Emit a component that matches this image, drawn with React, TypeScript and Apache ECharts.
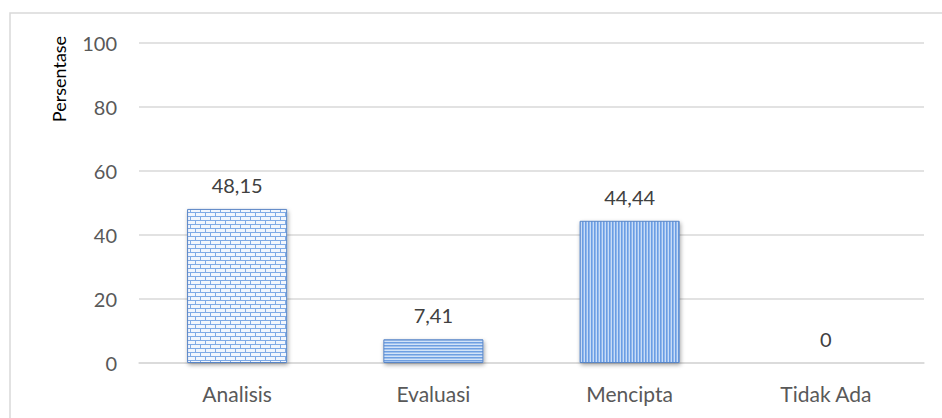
import React, { useEffect, useRef } from "react";
import * as echarts from "echarts";

const categories = ["Analisis", "Evaluasi", "Mencipta", "Tidak Ada"];
const values = [48.15, 7.41, 44.44, 0];
const yTicks = { min: 0, max: 100, interval: 20 };
const yTitle = "Persentase";

const FONT = "Lato, 'Noto Sans', sans-serif";
const TEXT = "#595959";

function makeCanvas(w: number, h: number, draw: (c: CanvasRenderingContext2D) => void) {
  const cv = document.createElement("canvas");
  cv.width = w;
  cv.height = h;
  const ctx = cv.getContext("2d")!;
  draw(ctx);
  return cv;
}

// brick texture
function brickPattern() {
  const w = 10, h = 8;
  const cv = makeCanvas(w, h, (c) => {
    c.fillStyle = "#f1f6fd";
    c.fillRect(0, 0, w, h);
    c.fillStyle = "#7eaae6";
    c.fillRect(0, 0, w, 1);
    c.fillRect(0, 4, w, 1);
    c.fillRect(0, 0, 1, 4);
    c.fillRect(5, 4, 1, 4);
  });
  return { image: cv, repeat: "repeat", imageWidth: w, imageHeight: h };
}

// horizontal stripes
function hStripes() {
  const w = 4, h = 3;
  const cv = makeCanvas(w, h, (c) => {
    c.fillStyle = "#d2e3f8";
    c.fillRect(0, 0, w, h);
    c.fillStyle = "#6e9fe2";
    c.fillRect(0, 0, w, 1.5);
  });
  return { image: cv, repeat: "repeat", imageWidth: w, imageHeight: h };
}

// vertical stripes
function vStripes() {
  const w = 3, h = 4;
  const cv = makeCanvas(w, h, (c) => {
    c.fillStyle = "#c8dcf6";
    c.fillRect(0, 0, w, h);
    c.fillStyle = "#6a9de4";
    c.fillRect(0, 0, 1.6, h);
  });
  return { image: cv, repeat: "repeat", imageWidth: w, imageHeight: h };
}

export default function App() {
  const ref = useRef<HTMLDivElement>(null);

  useEffect(() => {
    if (!ref.current) return;
    const chart = echarts.init(ref.current, undefined, { renderer: "svg" });
    const fills = [brickPattern(), hStripes(), vStripes(), hStripes()];

    chart.setOption({
      animation: false,
      backgroundColor: "#ffffff",
      grid: { left: 139, right: 18, top: 43, bottom: 55 },
      graphic: [
        {
          type: "rect",
          shape: { x: 10, y: 13, width: 945, height: 420 },
          style: { fill: "none", stroke: "#d9d9d9", lineWidth: 1.5 },
          silent: true,
        },
        {
          type: "text",
          x: 59,
          y: 79,
          rotation: Math.PI / 2,
          style: {
            text: yTitle,
            font: `18px ${FONT}`,
            fill: "#000000",
            align: "center",
            verticalAlign: "middle",
          },
        },
      ],
      xAxis: {
        type: "category",
        data: categories,
        axisLine: { show: true, lineStyle: { color: "#d9d9d9", width: 1.5 } },
        axisTick: { show: false },
        axisLabel: { color: TEXT, fontSize: 21, fontFamily: FONT, margin: 20 },
      },
      yAxis: {
        type: "value",
        min: yTicks.min,
        max: yTicks.max,
        interval: yTicks.interval,
        axisLine: { show: false },
        axisTick: { show: false },
        splitLine: { lineStyle: { color: "#d9d9d9", width: 1.5 } },
        axisLabel: { color: TEXT, fontSize: 20, fontFamily: FONT, margin: 22 },
      },
      series: [
        {
          type: "bar",
          barWidth: "51%",
          data: values.map((v, i) => ({
            value: v,
            itemStyle: { color: fills[i] },
          })),
          itemStyle: {
            borderColor: "#5a86c6",
            borderWidth: 1,
            shadowColor: "rgba(0,0,0,0.35)",
            shadowBlur: 4,
            shadowOffsetX: 1,
            shadowOffsetY: 2,
          },
          label: {
            show: true,
            position: "top",
            distance: 14,
            color: "#404040",
            fontSize: 20,
            fontFamily: FONT,
            formatter: (p: any) => String(p.value).replace(".", ","),
          },
        },
      ],
    });

    return () => chart.dispose();
  }, []);

  return <div ref={ref} style={{ width: 942, height: 418, position: "absolute", left: 0, top: 0 }} />;
}
